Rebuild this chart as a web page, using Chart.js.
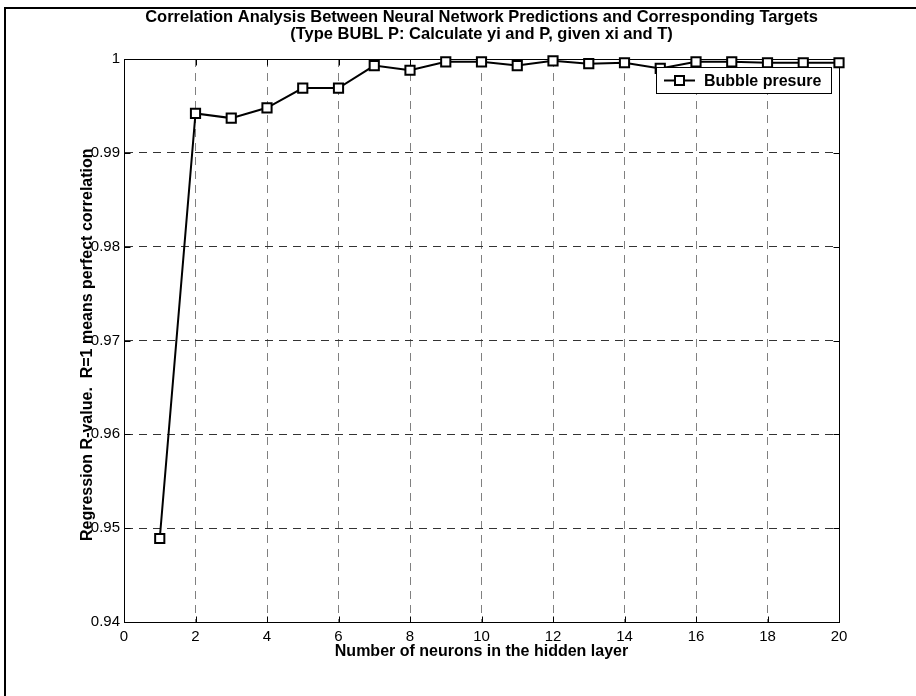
<!DOCTYPE html>
<html>
<head>
<meta charset="utf-8">
<script src="https://cdn.jsdelivr.net/npm/chart.js@4/dist/chart.umd.min.js"></script>
<style>
  html, body { margin: 0; padding: 0; background: #fff; overflow: hidden; }
  #c { display: block; }
</style>
</head>
<body>
<canvas id="c" width="916" height="696"></canvas>
<script>
// Number of hidden-layer neurons tried
const neurons = [1, 2, 3, 4, 5, 6, 7, 8, 9, 10, 11, 12, 13, 14, 15, 16, 17, 18, 19, 20];
// Regression R-value for each network size
const rValues = [0.9489, 0.9942, 0.9937, 0.9948, 0.9969, 0.9969, 0.9993, 0.9988, 0.9997, 0.9997,
                 0.9993, 0.9998, 0.9995, 0.9996, 0.9990, 0.9997, 0.9997, 0.9996, 0.9996, 0.9996];
// Axis ticks
const xTickValues = [0, 2, 4, 6, 8, 10, 12, 14, 16, 18, 20];
const xTickLabels = ['0', '2', '4', '6', '8', '10', '12', '14', '16', '18', '20'];
const yTickValues = [0.94, 0.95, 0.96, 0.97, 0.98, 0.99, 1];
const yTickLabels = ['0.94', '0.95', '0.96', '0.97', '0.98', '0.99', '1'];

const titleLines = [
  'Correlation Analysis Between Neural Network Predictions and Corresponding Targets',
  '(Type BUBL P: Calculate yi and P, given xi and T)'
];
const xTitle = 'Number of neurons in the hidden layer';
const yTitle = 'Regression R-value.  R=1 means perfect correlation';
const seriesName = 'Bubble presure';

const FONT = '"Liberation Sans", Arial, Helvetica, sans-serif';

function drawSquare(ctx, cx, cy, half) {
  ctx.beginPath();
  ctx.rect(cx - half, cy - half, half * 2, half * 2);
  ctx.fillStyle = '#fff';
  ctx.fill();
  ctx.lineWidth = 2;
  ctx.strokeStyle = '#000';
  ctx.stroke();
}

const decor = {
  id: 'decor',
  beforeDraw(chart) {
    const ctx = chart.ctx;
    ctx.save();
    ctx.fillStyle = '#fff';
    ctx.fillRect(0, 0, chart.width, chart.height);
    ctx.restore();
  },
  beforeDatasetsDraw(chart) {
    const { ctx, chartArea: a, scales: { x, y } } = chart;
    const L = Math.round(a.left) + 0.5, R = Math.round(a.right) + 0.5;
    const T = Math.round(a.top) + 0.5, B = Math.round(a.bottom) + 0.5;
    ctx.save();
    ctx.strokeStyle = '#000';
    ctx.lineWidth = 1;
    ctx.setLineDash([]);
    ctx.strokeRect(L, T, R - L, B - T);
    // inward tick marks on all four sides
    ctx.beginPath();
    xTickValues.forEach(v => {
      const px = Math.round(x.getPixelForValue(v)) + 0.5;
      ctx.moveTo(px, B); ctx.lineTo(px, B - 6);
      ctx.moveTo(px, T); ctx.lineTo(px, T + 6);
    });
    yTickValues.forEach(v => {
      const py = Math.round(y.getPixelForValue(v)) + 0.5;
      ctx.moveTo(L, py); ctx.lineTo(L + 6, py);
      ctx.moveTo(R, py); ctx.lineTo(R - 6, py);
    });
    ctx.stroke();
    ctx.restore();
  },
  afterDraw(chart) {
    const { ctx, chartArea: a } = chart;
    const cx = (a.left + a.right) / 2;
    ctx.save();
    ctx.fillStyle = '#000';
    ctx.textAlign = 'center';
    ctx.textBaseline = 'middle';
    ctx.font = 'bold 16.5px ' + FONT;
    ctx.fillText(titleLines[0], cx, 17);
    ctx.fillText(titleLines[1], cx, 34);

    ctx.font = 'bold 16px ' + FONT;
    ctx.fillText(xTitle, cx, 652);

    // y-axis title, rotated, overlapping the tick labels
    ctx.save();
    ctx.translate(88, 541);
    ctx.rotate(-Math.PI / 2);
    ctx.textAlign = 'left';
    ctx.fillText(yTitle, 0, 0);
    ctx.restore();

    // legend
    const lx = 656.5, ly = 67.5, lw = 175, lh = 26;
    ctx.fillStyle = '#fff';
    ctx.fillRect(lx, ly, lw, lh);
    ctx.strokeStyle = '#000';
    ctx.lineWidth = 1;
    ctx.strokeRect(lx, ly, lw, lh);
    const my = ly + lh / 2;
    ctx.beginPath();
    ctx.moveTo(664, my); ctx.lineTo(695, my);
    ctx.lineWidth = 2;
    ctx.stroke();
    drawSquare(ctx, 679.5, my, 4.5);
    ctx.fillStyle = '#000';
    ctx.textAlign = 'left';
    ctx.font = 'bold 16px ' + FONT;
    ctx.fillText(seriesName, 704, my + 1);

    // outer frame
    ctx.fillStyle = '#000';
    ctx.fillRect(4, 7, 2, 696);
    ctx.fillRect(4, 7, 916, 2);
    ctx.restore();
  }
};

new Chart(document.getElementById('c'), {
  type: 'line',
  data: {
    datasets: [{
      label: seriesName,
      data: neurons.map((n, i) => ({ x: n, y: rValues[i] })),
      borderColor: '#000',
      borderWidth: 2,
      pointStyle: 'rect',
      pointRadius: 6.5,
      pointHoverRadius: 6.5,
      pointBackgroundColor: '#fff',
      pointBorderColor: '#000',
      pointBorderWidth: 2,
      tension: 0,
      clip: false
    }]
  },
  options: {
    responsive: false,
    animation: false,
    events: [],
    layout: { padding: { top: 59, right: 77, left: 0, bottom: 0 } },
    plugins: { legend: { display: false }, title: { display: false }, tooltip: { enabled: false } },
    scales: {
      x: {
        type: 'linear',
        min: 0, max: 20,
        afterFit: s => { s.height = 74; },
        afterBuildTicks: s => { s.ticks = xTickValues.map(v => ({ value: v })); },
        ticks: {
          autoSkip: false, maxRotation: 0, padding: 6,
          color: '#000', font: { family: FONT, size: 15 },
          callback: (v) => xTickLabels[xTickValues.indexOf(v)]
        },
        grid: { color: '#808080', lineWidth: 1, drawTicks: false },
        border: { display: true, color: '#000', width: 1, dash: [8, 6] }
      },
      y: {
        type: 'linear',
        min: 0.94, max: 1,
        afterFit: s => { s.width = 124; },
        afterBuildTicks: s => { s.ticks = yTickValues.map(v => ({ value: v })); },
        ticks: {
          autoSkip: false, padding: 4,
          color: '#000', font: { family: FONT, size: 15 },
          callback: (v) => {
            const i = yTickValues.findIndex(t => Math.abs(t - v) < 1e-9);
            return yTickLabels[i];
          }
        },
        grid: { color: '#333', lineWidth: 1, drawTicks: false },
        border: { display: true, color: '#000', width: 1, dash: [8, 6] }
      }
    }
  },
  plugins: [decor]
});
</script>
</body>
</html>
